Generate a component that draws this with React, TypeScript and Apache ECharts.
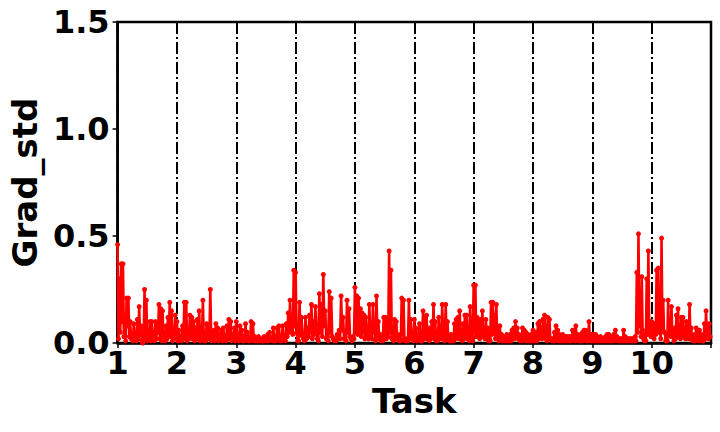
import React, { useEffect, useRef } from "react";
import * as echarts from "echarts";

const taskLabels = [1, 2, 3, 4, 5, 6, 7, 8, 9, 10];
const yTicks = [0, 0.5, 1.0, 1.5];

// peak-side readings per task
const task1 = [0.46, 0.3, 0.37, 0.37, 0.12, 0.21, 0.21, 0.1, 0.04, 0.09, 0.05, 0.11, 0.17, 0.08, 0.0, 0.25, 0.2, 0.05, 0.1, 0.1, 0.03, 0.1, 0.08, 0.18, 0.16, 0.15, 0.05, 0.08, 0.12, 0.19, 0.15, 0.05, 0.13];
const task2 = [0.1, 0.06, 0.03, 0.08, 0.19, 0.19, 0.05, 0.13, 0.12, 0.1, 0.07, 0.11, 0.15, 0.06, 0.2, 0.02, 0.09, 0.07, 0.25, 0.04, 0.06, 0.09, 0.07, 0.04, 0.06, 0.07, 0.02, 0.08, 0.11, 0.1, 0.04, 0.07];
const task3 = [0.1, 0.04, 0.08, 0.06, 0.03, 0.09, 0.05, 0.02, 0.1, 0.09, 0.03, 0.02, 0.03, 0.02, 0.01, 0.03, 0.02, 0.04, 0.05, 0.02, 0.07, 0.03, 0.07, 0.08, 0.03, 0.08, 0.02, 0.09, 0.14, 0.2, 0.12, 0.34];
const task4 = [0.33, 0.01, 0.19, 0.12, 0.02, 0.12, 0.07, 0.13, 0.18, 0.1, 0.17, 0.02, 0.23, 0.18, 0.32, 0.15, 0.03, 0.24, 0.21, 0.02, 0.02, 0.04, 0.06, 0.22, 0.12, 0.02, 0.2, 0.16, 0.02, 0.03];
const task5 = [0.26, 0.22, 0.21, 0.16, 0.14, 0.13, 0.12, 0.06, 0.18, 0.09, 0.18, 0.06, 0.22, 0.1, 0.04, 0.03, 0.12, 0.12, 0.1, 0.43, 0.34, 0.03, 0.11, 0.1, 0.04, 0.02, 0.21, 0.2, 0.01, 0.02, 0.2, 0.11, 0.02];
const task6 = [0.11, 0.07, 0.04, 0.09, 0.01, 0.15, 0.12, 0.13, 0.02, 0.07, 0.1, 0.18, 0.1, 0.02, 0.12, 0.07, 0.18, 0.04, 0.18, 0.1, 0.01, 0.04, 0.02, 0.09, 0.11, 0.12, 0.15, 0.04, 0.09, 0.13, 0.13, 0.07, 0.17, 0.02];
const task7 = [0.27, 0.27, 0.12, 0.1, 0.11, 0.15, 0.07, 0.11, 0.07, 0.02, 0.19, 0.19, 0.13, 0.18, 0.04, 0.08, 0.04, 0.03, 0.02, 0.04, 0.03, 0.04, 0.06, 0.07, 0.1, 0.07, 0.04, 0.03, 0.07, 0.06, 0.05, 0.04, 0.03, 0.04];
const task8 = [0.06, 0.04, 0.05, 0.09, 0.1, 0.07, 0.11, 0.13, 0.02, 0.12, 0.11, 0.02, 0.02, 0.05, 0.08, 0.06, 0.04, 0.03, 0.04, 0.03, 0.03, 0.03, 0.03, 0.03, 0.06, 0.06, 0.08, 0.04, 0.03, 0.04, 0.05, 0.06, 0.06, 0.02, 0.1, 0.04];
const task9 = [0.04, 0.04, 0.04, 0.03, 0.02, 0.03, 0.02, 0.02, 0.03, 0.04, 0.04, 0.03, 0.02, 0.04, 0.06, 0.03, 0.02, 0.02, 0.02, 0.06, 0.03, 0.02, 0.02, 0.02, 0.02, 0.02, 0.03, 0.33, 0.51, 0.2, 0.31, 0.02, 0.04, 0.3, 0.43, 0.1];
const task10 = [0.1, 0.08, 0.09, 0.34, 0.35, 0.06, 0.49, 0.2, 0.05, 0.03, 0.2, 0.1, 0.17, 0.03, 0.07, 0.13, 0.16, 0.06, 0.12, 0.12, 0.06, 0.1, 0.07, 0.18, 0.07, 0.01, 0.04, 0.07, 0.05, 0.06, 0.04, 0.01, 0.09, 0.15, 0.06, 0.09];

// trough-side readings between the peaks
const task1Low = [0.02, 0.05, 0.1, 0.03, 0.01, 0.08, 0.03, 0.02, 0.01, 0.03, 0.01, 0.02, 0.04, 0.01, 0.02, 0.03, 0.01, 0.02, 0.01, 0.03, 0.01, 0.02, 0.05, 0.02, 0.01, 0.03, 0.01, 0.02, 0.04, 0.03, 0.01, 0.02, 0.04];
const task2Low = [0.01, 0.02, 0.01, 0.03, 0.02, 0.01, 0.02, 0.03, 0.02, 0.01, 0.03, 0.02, 0.01, 0.02, 0.01, 0.01, 0.03, 0.02, 0.01, 0.02, 0.01, 0.03, 0.01, 0.02, 0.01, 0.02, 0.01, 0.02, 0.03, 0.01, 0.02, 0.01];
const task3Low = [0.02, 0.01, 0.02, 0.01, 0.01, 0.02, 0.01, 0.01, 0.02, 0.01, 0.01, 0.01, 0.01, 0.01, 0.01, 0.01, 0.01, 0.01, 0.02, 0.01, 0.01, 0.01, 0.02, 0.01, 0.01, 0.02, 0.01, 0.03, 0.05, 0.06, 0.04, 0.08];
const task4Low = [0.05, 0.01, 0.04, 0.03, 0.01, 0.02, 0.03, 0.05, 0.02, 0.04, 0.06, 0.01, 0.05, 0.03, 0.08, 0.02, 0.01, 0.05, 0.03, 0.01, 0.01, 0.02, 0.02, 0.06, 0.02, 0.01, 0.05, 0.03, 0.01, 0.02];
const task5Low = [0.06, 0.04, 0.05, 0.03, 0.05, 0.02, 0.04, 0.02, 0.03, 0.02, 0.05, 0.01, 0.03, 0.02, 0.01, 0.01, 0.03, 0.02, 0.03, 0.05, 0.02, 0.01, 0.02, 0.03, 0.01, 0.01, 0.04, 0.02, 0.01, 0.01, 0.03, 0.02, 0.01];
const task6Low = [0.02, 0.01, 0.02, 0.01, 0.01, 0.03, 0.02, 0.04, 0.01, 0.02, 0.03, 0.02, 0.01, 0.01, 0.03, 0.02, 0.04, 0.01, 0.03, 0.02, 0.01, 0.01, 0.01, 0.02, 0.03, 0.02, 0.04, 0.01, 0.02, 0.03, 0.02, 0.01, 0.03, 0.01];
const task7Low = [0.05, 0.03, 0.04, 0.02, 0.03, 0.04, 0.02, 0.03, 0.01, 0.01, 0.04, 0.05, 0.02, 0.03, 0.01, 0.02, 0.01, 0.01, 0.01, 0.01, 0.01, 0.01, 0.02, 0.02, 0.03, 0.02, 0.01, 0.01, 0.02, 0.01, 0.01, 0.01, 0.01, 0.01];
const task8Low = [0.01, 0.01, 0.01, 0.02, 0.03, 0.02, 0.03, 0.04, 0.01, 0.03, 0.02, 0.01, 0.01, 0.01, 0.02, 0.01, 0.01, 0.01, 0.01, 0.01, 0.01, 0.01, 0.01, 0.01, 0.02, 0.01, 0.02, 0.01, 0.01, 0.01, 0.01, 0.02, 0.01, 0.01, 0.02, 0.01];
const task9Low = [0.01, 0.01, 0.01, 0.01, 0.01, 0.01, 0.01, 0.01, 0.01, 0.01, 0.01, 0.01, 0.01, 0.01, 0.02, 0.01, 0.01, 0.01, 0.01, 0.01, 0.01, 0.01, 0.01, 0.01, 0.01, 0.01, 0.01, 0.05, 0.08, 0.03, 0.06, 0.01, 0.01, 0.04, 0.06, 0.03];
const task10Low = [0.03, 0.02, 0.04, 0.06, 0.05, 0.02, 0.07, 0.05, 0.01, 0.01, 0.04, 0.03, 0.05, 0.01, 0.02, 0.04, 0.03, 0.02, 0.04, 0.03, 0.02, 0.03, 0.02, 0.04, 0.02, 0.01, 0.01, 0.02, 0.01, 0.02, 0.01, 0.01, 0.02, 0.04, 0.02, 0.03];

const tasks = [task1, task2, task3, task4, task5, task6, task7, task8, task9, task10];
const lows = [task1Low, task2Low, task3Low, task4Low, task5Low, task6Low, task7Low, task8Low, task9Low, task10Low];

const FONT = "DejaVu Sans";

export default function App() {
  const ref = useRef<HTMLDivElement>(null);
  useEffect(() => {
    document.body.style.margin = "0";
    const chart = echarts.init(ref.current!, null, { renderer: "svg" });
    const data: number[][] = [];
    tasks.forEach((vals, t) => {
      const lo = lows[t];
      const n = vals.length * 2;
      vals.forEach((v, i) => {
        data.push([taskLabels[t] + (2 * i) / n, v]);
        data.push([taskLabels[t] + (2 * i + 1) / n, lo[i]]);
      });
    });
    chart.setOption({
      animation: false,
      grid: {
        left: 117,
        right: 9,
        top: 22,
        bottom: 89,
        show: true,
        borderColor: "#000",
        borderWidth: 2.5,
        backgroundColor: "#fff",
      },
      xAxis: {
        type: "value",
        min: 1,
        max: 11,
        interval: 1,
        name: "Task",
        nameLocation: "middle",
        nameGap: 37,
        nameTextStyle: { fontFamily: FONT, fontWeight: "bold", fontSize: 34, color: "#000" },
        axisLine: { show: true, lineStyle: { color: "#000", width: 2.5 } },
        axisTick: { show: true, length: 5, lineStyle: { color: "#000", width: 1.5 } },
        axisLabel: {
          fontFamily: FONT,
          fontWeight: "bold",
          fontSize: 32,
          color: "#000",
          margin: 4,
          formatter: (v: number) => (taskLabels.includes(v) ? String(v) : ""),
        },
        splitLine: {
          show: true,
          lineStyle: { color: "#000", width: 2, type: [12, 3, 2, 3] },
        },
      },
      yAxis: {
        type: "value",
        min: 0,
        max: 1.5,
        interval: 0.5,
        name: "Grad_std",
        nameLocation: "middle",
        nameGap: 71,
        nameTextStyle: { fontFamily: FONT, fontWeight: "bold", fontSize: 34, color: "#000" },
        axisLine: { show: true, lineStyle: { color: "#000", width: 2.5 } },
        axisTick: { show: true, length: 5, lineStyle: { color: "#000", width: 1.5 } },
        axisLabel: {
          fontFamily: FONT,
          fontWeight: "bold",
          fontSize: 32,
          color: "#000",
          margin: 8,
          formatter: (v: number) => {
            const t = yTicks.find((y) => Math.abs(y - v) < 1e-9);
            return t === undefined ? "" : t.toFixed(1);
          },
        },
        splitLine: { show: false },
      },
      series: [
        {
          type: "line",
          data,
          symbol: "circle",
          symbolSize: 5,
          showSymbol: true,
          clip: true,
          lineStyle: { color: "#ff0000", width: 2.6 },
          itemStyle: { color: "#ff0000" },
        },
      ],
    });
    return () => chart.dispose();
  }, []);
  return <div ref={ref} style={{ width: 720, height: 432 }} />;
}
